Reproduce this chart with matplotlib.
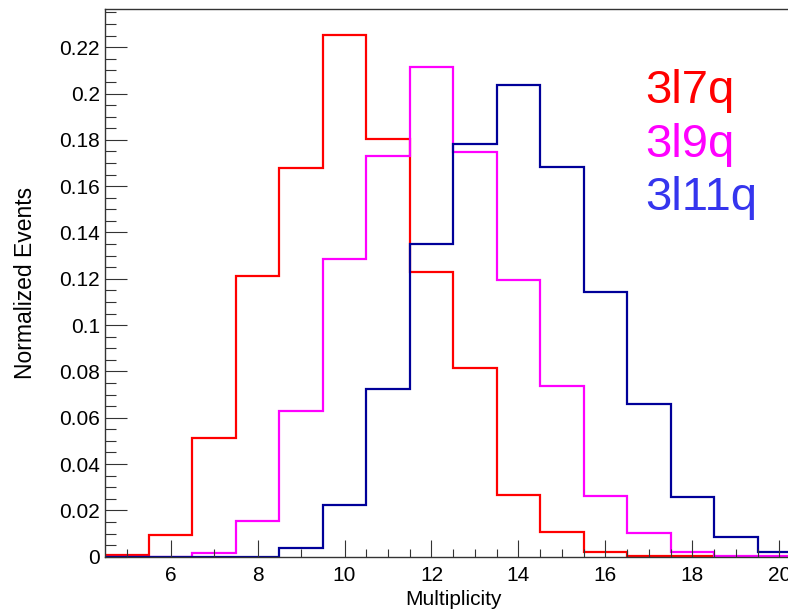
import numpy as np
import matplotlib
matplotlib.use("Agg")
import matplotlib.pyplot as plt

plt.rcParams['font.family'] = ['Liberation Sans', 'DejaVu Sans']

# bin edges (integer-centred bins from 5 to 20)
bin_edges = np.arange(4.5, 21.0, 1.0)

series_names = ["3l7q", "3l9q", "3l11q"]
vals_3l7q = [0.0008, 0.0094, 0.0512, 0.1211, 0.1680, 0.2254, 0.1803, 0.1229,
             0.0815, 0.0267, 0.0107, 0.0022, 0.0003, 0.0002, 0.0, 0.0]
vals_3l9q = [0.0, 0.0, 0.0018, 0.0155, 0.0629, 0.1286, 0.1732, 0.2116,
             0.1748, 0.1195, 0.0737, 0.0262, 0.0102, 0.0020, 0.0002, 0.0002]
vals_3l11q = [0.0, 0.0, 0.0, 0.0, 0.0036, 0.0223, 0.0724, 0.1350,
              0.1781, 0.2037, 0.1684, 0.1142, 0.0659, 0.0256, 0.0086, 0.0019]

line_colors = ["#ff0000", "#ff00ff", "#000099"]
text_colors = ["#ff0000", "#ff00ff", "#3535ee"]

x_major = [6, 8, 10, 12, 14, 16, 18, 20]
y_major = [0, 0.02, 0.04, 0.06, 0.08, 0.1, 0.12, 0.14, 0.16, 0.18, 0.2, 0.22]

fig = plt.figure(figsize=(7.88, 6.09), dpi=100)
ax = fig.add_axes([105.4 / 788, 52.3 / 609, (801 - 105.4) / 788, (600 - 52.3) / 609])

for vals, c in zip([vals_3l7q, vals_3l9q, vals_3l11q], line_colors):
    ax.stairs(vals, bin_edges, color=c, lw=1.6, baseline=0)

ax.set_xlim(4.5, 20.5)
ax.set_ylim(0, 0.2365)

ax.set_xticks(x_major)
ax.set_xticklabels([str(v) for v in x_major])
minor_x = [5, 7, 9] + [v for v in np.arange(10.5, 20.01, 0.5) if v not in x_major]
ax.set_xticks(minor_x, minor=True)
ax.set_yticks(y_major)
ax.set_yticklabels(["%g" % v for v in y_major])
ax.set_yticks(np.arange(0, 0.236, 0.005), minor=True)

ax.tick_params(axis='both', which='both', direction='in', colors='#333333',
               labelcolor='black', labelsize=15, width=0.8)
ax.tick_params(axis='y', which='major', length=16, pad=4)
ax.tick_params(axis='y', which='minor', length=8)
ax.tick_params(axis='x', which='major', length=12, pad=7)
ax.tick_params(axis='x', which='minor', length=6)
ax.tick_params(top=False, right=False, which='both')

for s in ax.spines.values():
    s.set_color('#333333')
    s.set_linewidth(1.0)

ax.set_xlabel("Multiplicity", fontsize=15, labelpad=3)
ax.set_ylabel("Normalized Events", fontsize=16.5, labelpad=16)

baselines = [0.1959, 0.1726, 0.1497]
for name, c, yb in zip(series_names, text_colors, baselines):
    ax.text(16.92, yb, name, color=c, fontsize=34, va='baseline', ha='left')

fig.savefig("out.png", dpi=100)
